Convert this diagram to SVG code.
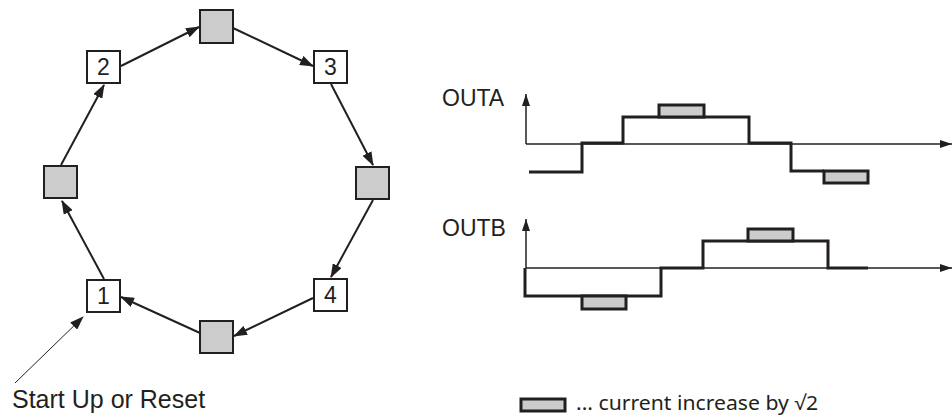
<svg xmlns="http://www.w3.org/2000/svg" width="952" height="416" viewBox="0 0 952 416">
<defs>
<marker id="ah" markerUnits="userSpaceOnUse" markerWidth="14" markerHeight="10" viewBox="0 0 14 10" refX="13" refY="5" orient="auto">
<path d="M0,0 L14,5 L0,10 Z" fill="#231f20"/>
</marker>
<marker id="ax" markerUnits="userSpaceOnUse" markerWidth="12" markerHeight="8" viewBox="0 0 12 8" refX="12" refY="4" orient="auto">
<path d="M0,0 L12,4 L0,8 Z" fill="#231f20"/>
</marker>
</defs>
<style>
.st{fill:#ffffff;stroke:#231f20;stroke-width:2}
.gr{fill:#cccccc;stroke:#231f20;stroke-width:2}
.num{font-family:"Liberation Sans",Arial,sans-serif;font-size:23px;fill:#231f20;text-anchor:middle}
.lbl{font-family:"Liberation Sans",Arial,sans-serif;fill:#231f20}
.con{stroke:#231f20;stroke-width:2;fill:none;marker-end:url(#ah)}
.axis{stroke:#231f20;stroke-width:1.5;fill:none;marker-end:url(#ax)}
.wave{stroke:#231f20;stroke-width:3;fill:none;stroke-linejoin:miter}
.pulse{fill:#cccccc;stroke:#231f20;stroke-width:3}
</style>
<rect width="952" height="416" fill="#ffffff"/>
<g id="connectors">
<line class="con" x1="121" y1="66" x2="199" y2="27"/>
<line class="con" x1="233" y1="28" x2="313" y2="66"/>
<line class="con" x1="331" y1="84" x2="373" y2="165"/>
<line class="con" x1="373" y1="200" x2="331" y2="277"/>
<line class="con" x1="313" y1="298" x2="234" y2="336"/>
<line class="con" x1="200" y1="333" x2="121" y2="297"/>
<line class="con" x1="104" y1="279" x2="62" y2="201"/>
<line class="con" x1="61" y1="165" x2="104" y2="85"/>
<line class="con" style="stroke-width:1" x1="15" y1="383" x2="83" y2="317"/>
</g>
<g id="n-top"><rect class="gr" x="200" y="10" width="33" height="33"/></g>
<g id="n2"><rect class="st" x="87" y="51" width="33" height="32"/><text class="num" x="103.5" y="75">2</text></g>
<g id="n3"><rect class="st" x="314" y="51" width="33" height="32"/><text class="num" x="330.5" y="75">3</text></g>
<g id="n-right"><rect class="gr" x="356" y="167" width="33" height="32"/></g>
<g id="n-left"><rect class="gr" x="44" y="166" width="33" height="32"/></g>
<g id="n1"><rect class="st" x="87" y="280" width="33" height="32"/><text class="num" x="103.5" y="304">1</text></g>
<g id="n4"><rect class="st" x="314" y="279" width="33" height="32"/><text class="num" x="330.5" y="303">4</text></g>
<g id="n-bottom"><rect class="gr" x="200" y="321" width="33" height="32"/></g>
<text class="lbl" x="12" y="408" font-size="25">Start Up or Reset</text>
<g id="outa">
<text class="lbl" x="442" y="106" font-size="23">OUTA</text>
<path class="axis" d="M526,144 L526,94"/>
<path class="axis" d="M526,144 L952,144"/>
<path class="wave" d="M529,172 L582,172 L582,143 L623,143 L623,117 L749,117 L749,143 L791,143 L791,171 L824,171"/>
<rect class="pulse" x="659" y="105" width="45" height="12"/>
<rect class="pulse" x="824" y="171" width="44" height="12"/>
</g>
<g id="outb">
<text class="lbl" x="442" y="236" font-size="23">OUTB</text>
<path class="axis" d="M526,268 L526,219"/>
<path class="axis" d="M526,268 L952,268"/>
<path class="wave" d="M525,268 L525,296 L661,296 L661,268 L703,268 L703,241 L828,241 L828,268 L868,268"/>
<rect class="pulse" x="582" y="296" width="44" height="13"/>
<rect class="pulse" x="748" y="229" width="45" height="12"/>
</g>
<g id="legend">
<rect class="pulse" x="521" y="399" width="44" height="12"/>
<text x="576" y="410" font-family="'Noto Sans','Open Sans',sans-serif" font-size="20" fill="#231f20" textLength="242" lengthAdjust="spacingAndGlyphs">... current increase by √2</text>
</g>
</svg>
